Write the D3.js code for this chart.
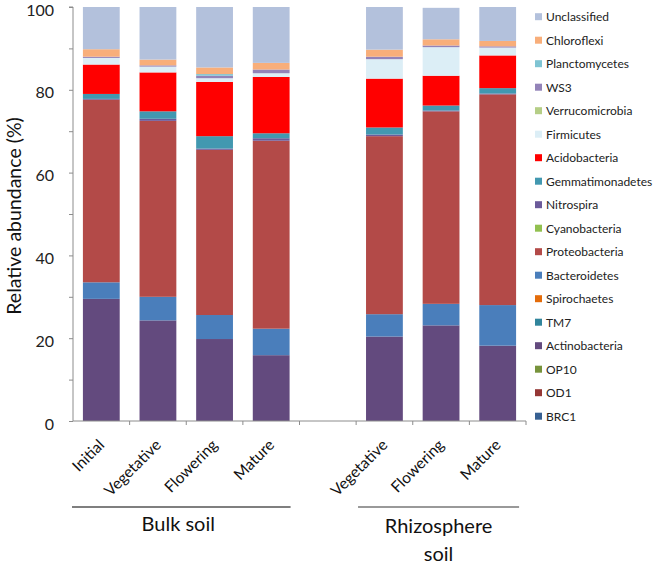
<!DOCTYPE html>
<html>
<head>
<meta charset="utf-8">
<script src="https://cdn.jsdelivr.net/npm/d3@7"></script>
<style>
  html, body { margin: 0; padding: 0; background: #fff; }
  svg { display: block; font-family: Lato, "Open Sans", sans-serif; }
</style>
</head>
<body>
<svg id="chart" width="664" height="565"></svg>
<script>
// ---------- DATA ----------
const categories = ["Initial", "Vegetative", "Flowering", "Mature", "Vegetative", "Flowering", "Mature"];
const groups = ["Bulk soil", "Bulk soil", "Bulk soil", "Bulk soil", "Rhizosphere soil", "Rhizosphere soil", "Rhizosphere soil"];

// stacking order bottom -> top
const phyla = ["BRC1", "OD1", "OP10", "Actinobacteria", "TM7", "Spirochaetes", "Bacteroidetes",
  "Proteobacteria", "Cyanobacteria", "Nitrospira", "Gemmatimonadetes", "Acidobacteria",
  "Firmicutes", "Verrucomicrobia", "WS3", "Planctomycetes", "Chloroflexi", "Unclassified"];

const colors = ["#376092", "#953735", "#77933C", "#634A7E", "#31859C", "#E46C0A", "#4A7EBB",
  "#B34A48", "#92C050", "#6B5A9A", "#4298B0", "#FF0000",
  "#DCEEF6", "#B5CE86", "#9383B8", "#7FC4D3", "#F8AE7A", "#B3C1DC"];

// relative abundance (%) per phylum, one value per bar (order of categories)
const BRC1            = [0, 0, 0, 0, 0, 0, 0];
const OD1             = [0, 0, 0, 0, 0, 0, 0];
const OP10            = [0, 0, 0, 0, 0, 0, 0];
const Actinobacteria  = [29.5, 24.3, 19.8, 15.9, 20.4, 23.1, 18.2];
const TM7             = [0, 0, 0, 0, 0, 0, 0];
const Spirochaetes    = [0, 0, 0, 0, 0, 0, 0];
const Bacteroidetes   = [4.0, 5.7, 5.8, 6.4, 5.4, 5.2, 9.8];
const Proteobacteria  = [44.1, 42.5, 39.9, 45.4, 43.0, 46.5, 50.9];
const Cyanobacteria   = [0, 0, 0, 0, 0, 0, 0];
const Nitrospira      = [0.2, 0.5, 0.3, 0.6, 0.4, 0.2, 0.2];
const Gemmatimonadetes= [1.2, 1.8, 3.0, 1.2, 1.7, 1.2, 1.3];
const Acidobacteria   = [7.1, 9.4, 13.1, 13.6, 11.8, 7.2, 7.9];
const Firmicutes      = [1.6, 1.4, 0.9, 0.9, 4.7, 6.9, 1.9];
const Verrucomicrobia = [0, 0, 0, 0, 0, 0, 0];
const WS3             = [0.3, 0.3, 0.6, 0.9, 0.6, 0.4, 0.3];
const Planctomycetes  = [0, 0, 0.4, 0, 0, 0, 0];
const Chloroflexi     = [1.8, 1.4, 1.6, 1.6, 1.7, 1.5, 1.3];
const Unclassified    = [10.2, 12.7, 14.6, 13.5, 10.3, 7.6, 8.2];

const yTicks = [0, 10, 20, 30, 40, 50, 60, 70, 80, 90, 100];
const yTickLabels = ["0", "", "20", "", "40", "", "60", "", "80", "", "100"];
const yTitle = "Relative abundance (%)";

const series = {BRC1, OD1, OP10, Actinobacteria, TM7, Spirochaetes, Bacteroidetes, Proteobacteria,
  Cyanobacteria, Nitrospira, Gemmatimonadetes, Acidobacteria, Firmicutes, Verrucomicrobia, WS3,
  Planctomycetes, Chloroflexi, Unclassified};

// ---------- BUILD ----------
const svg = d3.select("#chart");
svg.append("rect").attr("width", 664).attr("height", 565).attr("fill", "#fff");

// slot keys: bulk bars, an empty gap slot, rhizosphere bars
const barKeys = categories.map((c, i) => groups[i] + "|" + c);
const slotKeys = [...barKeys.slice(0, 4), "gap", ...barKeys.slice(4)];

const x = d3.scaleBand().domain(slotKeys).range([73, 526]).paddingInner(0.35).paddingOuter(0.175);
const y = d3.scaleLinear().domain([0, 100]).range([421, 7]);

const rows = barKeys.map((k, i) => {
  const r = {key: k};
  phyla.forEach(p => r[p] = series[p][i]);
  return r;
});
const stacked = d3.stack().keys(phyla)(rows);

const layers = svg.append("g").selectAll("g").data(stacked).join("g")
  .attr("fill", (d, i) => colors[i]);
layers.selectAll("rect").data(d => d.filter(s => s[1] - s[0] > 0)).join("rect")
  .attr("x", d => x(d.data.key))
  .attr("width", x.bandwidth())
  .attr("y", d => y(d[1]))
  .attr("height", d => Math.max(0, y(d[0]) - y(d[1])));

// axes
const axisColor = "#8c8c8c";
const yAxis = svg.append("g").attr("transform", "translate(73,0)")
  .call(d3.axisLeft(y).tickValues(yTicks).tickSize(4).tickPadding(15)
    .tickFormat((d, i) => yTickLabels[i]));
yAxis.select(".domain").attr("stroke", axisColor).attr("d", `M-4,${y(100)}H0V${y(0)}`);
yAxis.selectAll(".tick line").attr("stroke", axisColor);
yAxis.selectAll(".tick text").attr("fill", "#222").style("font-size", "16px")
  .attr("dy", "0.5em")
  .style("font-family", "Lato, sans-serif");

// x axis baseline and slot-boundary ticks
const step = x.step();
svg.append("line").attr("x1", 73).attr("x2", x.range()[1]).attr("y1", y(0)).attr("y2", y(0))
  .attr("stroke", axisColor).attr("stroke-width", 1);
svg.append("g").selectAll("line").data(slotKeys).join("line")
  .attr("x1", d => x(d) + x.bandwidth() + step * 0.175)
  .attr("x2", d => x(d) + x.bandwidth() + step * 0.175)
  .attr("y1", y(0)).attr("y2", y(0) + 4)
  .attr("stroke", axisColor);

// x labels (rotated)
svg.append("g").selectAll("text").data(barKeys).join("text")
  .attr("transform", d => `translate(${x(d) + x.bandwidth() / 2 + 4},446) rotate(-45)`)
  .attr("text-anchor", "end")
  .style("font-size", "15.5px").attr("fill", "#111")
  .text((d, i) => categories[i]);

// y title
svg.append("text")
  .attr("transform", `translate(21,${(y(0) + y(100)) / 2 + 2}) rotate(-90)`)
  .attr("text-anchor", "middle").style("font-size", "19.5px").attr("fill", "#111")
  .text(yTitle);

// group lines and labels
const bulkKeys = barKeys.filter((k, i) => groups[i] === "Bulk soil");
const rhizKeys = barKeys.filter((k, i) => groups[i] !== "Bulk soil");
const g1x0 = 72, g1x1 = x(bulkKeys[bulkKeys.length - 1]) + x.bandwidth() + 1;
const g2x0 = x(rhizKeys[0]) - 8, g2x1 = x(rhizKeys[rhizKeys.length - 1]) + x.bandwidth() + 3;
svg.append("line").attr("x1", g1x0).attr("x2", g1x1).attr("y1", 507).attr("y2", 507)
  .attr("stroke", "#555").attr("stroke-width", 1.6);
svg.append("line").attr("x1", g2x0).attr("x2", g2x1).attr("y1", 507).attr("y2", 507)
  .attr("stroke", "#777").attr("stroke-width", 1.6);
svg.append("text").attr("x", (g1x0 + g1x1) / 2 - 3).attr("y", 531).attr("text-anchor", "middle")
  .style("font-size", "20px").attr("fill", "#111").text("Bulk soil");
const rz = svg.append("text").attr("x", (g2x0 + g2x1) / 2).attr("y", 533).attr("text-anchor", "middle")
  .style("font-size", "20px").attr("fill", "#111");
rz.append("tspan").attr("x", (g2x0 + g2x1) / 2).text("Rhizosphere");
rz.append("tspan").attr("x", (g2x0 + g2x1) / 2).attr("dy", 28).text("soil");

// legend (top -> bottom is reverse stacking order)
const legendItems = phyla.map((p, i) => ({name: p, color: colors[i]})).reverse();
const lg = svg.append("g").selectAll("g").data(legendItems).join("g")
  .attr("transform", (d, i) => `translate(535,${16.7 + i * 23.5})`);
lg.append("rect").attr("x", 0).attr("y", -3.5).attr("width", 7).attr("height", 7).attr("fill", d => d.color);
lg.append("text").attr("x", 11).attr("y", 4.3).style("font-size", "12px").attr("fill", "#222")
  .text(d => d.name);
</script>
</body>
</html>
